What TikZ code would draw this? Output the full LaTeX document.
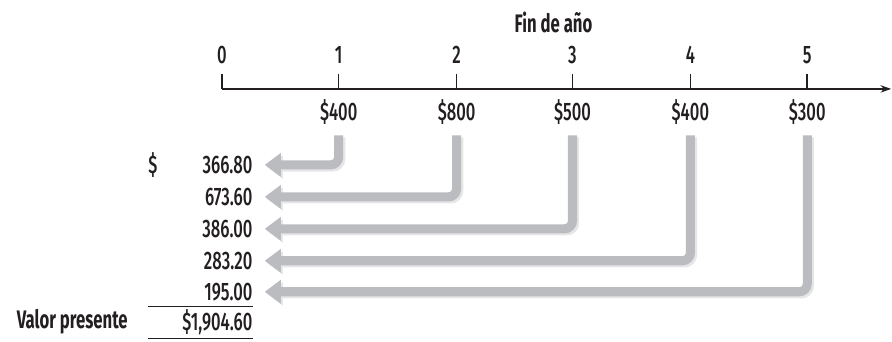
\documentclass[tikz,border=0pt]{standalone}
\usepackage{fontspec}
\setmainfont[FakeStretch=0.66,UprightFont={* Medium},BoldFont={* Bold}]{Fira Sans}
\usetikzlibrary{arrows.meta}

\definecolor{flowgray}{RGB}{187,188,192}
\definecolor{flowshade}{RGB}{230,230,232}
\definecolor{inkline}{RGB}{35,31,32}

\tikzset{
  txt/.style={inner sep=0pt, text=inkline, font=\fontsize{19}{21}\selectfont},
  btxt/.style={inner sep=0pt, text=inkline, font=\fontsize{19}{21}\selectfont\bfseries},
  axis/.style={draw=inkline, line width=1.2pt},
  rule/.style={draw=inkline, line width=1.1pt},
  flow/.style={draw=flowgray, line width=6.8pt, rounded corners=6pt,
    -{Triangle[width=17pt,length=12pt]}},
  flowshadow/.style={flow, draw=flowshade,
    transform canvas={xshift=1.6pt,yshift=-1.6pt}},
}

\begin{document}
\begin{tikzpicture}[x=0.75pt,y=0.75pt,yscale=-1,xscale=1]
\path (0,0) rectangle (892,342); %set diagram size

% Title
\node [btxt] (title) at (554,22) {Fin de año};

% Year labels
\node [txt] (y0) at (222,55) {0};
\node [txt] (y1) at (339,55) {1};
\node [txt] (y2) at (457,55) {2};
\node [txt] (y3) at (573,55) {3};
\node [txt] (y4) at (691,55) {4};
\node [txt] (y5) at (808,55) {5};

% Time line
\coordinate (o) at (222,89);
\coordinate (axend) at (892,89);
\draw [axis, -{Stealth[length=8pt,width=5.5pt]}] (o) -- (axend);
\draw [axis] ([yshift=7.5pt]y0.south) -- (y0 |- o);
\draw [axis] ([yshift=7.5pt]y1.south) -- (y1 |- o);
\draw [axis] ([yshift=7.5pt]y2.south) -- (y2 |- o);
\draw [axis] ([yshift=7.5pt]y3.south) -- (y3 |- o);
\draw [axis] ([yshift=7.5pt]y4.south) -- (y4 |- o);
\draw [axis] ([yshift=7.5pt]y5.south) -- (y5 |- o);

% Cash flows
\node [txt] (a1) at (339,112) {\$400};
\node [txt] (a2) at (457,112) {\$800};
\node [txt] (a3) at (573,112) {\$500};
\node [txt] (a4) at (691,112) {\$400};
\node [txt] (a5) at (808,112) {\$300};

% Present values
\node [txt] (cur) at (153,165) {\$};
\node [txt, anchor=east] (v1) at (253,165) {366.80};
\node [txt, anchor=east] (v2) at (253,197) {673.60};
\node [txt, anchor=east] (v3) at (253,229) {386.00};
\node [txt, anchor=east] (v4) at (253,261) {283.20};
\node [txt, anchor=east] (v5) at (253,292) {195.00};
\node [txt, anchor=east] (sum) at (253,322) {\$1,904.60};
\node [btxt, anchor=east] (pv) at (128,322) {Valor presente};

% Rules
\draw [rule] (148,307) -- (253,307);
\draw [rule] (148,339) -- (253,339);

% Discounting arrows
\draw [flowshadow] ([yshift=8pt]a1.south) |- ([xshift=9pt]v1.east);
\draw [flowshadow] ([yshift=8pt]a2.south) |- ([xshift=9pt]v2.east);
\draw [flowshadow] ([yshift=8pt]a3.south) |- ([xshift=9pt]v3.east);
\draw [flowshadow] ([yshift=8pt]a4.south) |- ([xshift=9pt]v4.east);
\draw [flowshadow] ([yshift=8pt]a5.south) |- ([xshift=9pt]v5.east);
\draw [flow] ([yshift=8pt]a1.south) |- ([xshift=9pt]v1.east);
\draw [flow] ([yshift=8pt]a2.south) |- ([xshift=9pt]v2.east);
\draw [flow] ([yshift=8pt]a3.south) |- ([xshift=9pt]v3.east);
\draw [flow] ([yshift=8pt]a4.south) |- ([xshift=9pt]v4.east);
\draw [flow] ([yshift=8pt]a5.south) |- ([xshift=9pt]v5.east);

\end{tikzpicture}
\end{document}
